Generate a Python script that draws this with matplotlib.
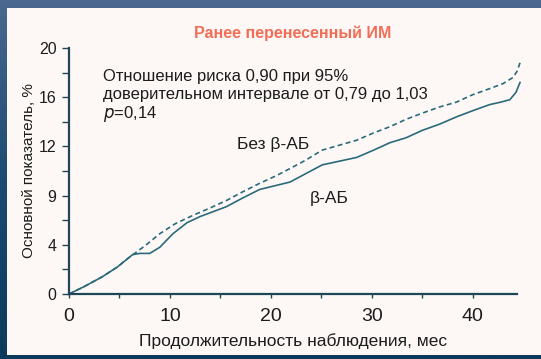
import matplotlib.pyplot as plt
import numpy as np
from matplotlib.patches import Rectangle
from matplotlib.colors import LinearSegmentedColormap

# Kaplan-Meier style curves, months vs event rate, %
months_no_bb = [0, 1.5, 3.3, 4.8, 6.0, 7.5, 9.0, 10.5, 12.3, 14.0, 15.6, 17.2, 18.9,
                20.5, 21.9, 23.5, 25.1, 26.8, 28.5, 30.2, 31.8, 33.4, 35.0, 36.7,
                38.4, 40.0, 41.7, 43.0, 44.0, 44.4, 44.7]
rate_no_bb = [0, 0.6, 1.4, 2.2, 3.0, 3.9, 4.9, 5.7, 6.4, 7.0, 7.6, 8.3, 9.0,
              9.6, 10.2, 10.9, 11.7, 12.1, 12.5, 13.1, 13.6, 14.2, 14.7, 15.2,
              15.6, 16.2, 16.7, 17.1, 17.6, 18.1, 18.8]

months_bb = [0, 1.5, 3.3, 4.8, 6.3, 7.0, 8.0, 9.0, 10.3, 11.7, 13.0, 14.3, 15.6,
             17.2, 18.9, 20.4, 21.9, 23.5, 25.1, 26.8, 28.5, 30.2, 31.8, 33.4,
             35.0, 36.7, 38.4, 40.0, 41.7, 42.8, 43.7, 44.3, 44.7]
rate_bb = [0, 0.6, 1.4, 2.2, 3.2, 3.3, 3.3, 3.8, 4.9, 5.8, 6.3, 6.7, 7.1,
           7.8, 8.5, 8.8, 9.1, 9.8, 10.5, 10.8, 11.1, 11.7, 12.3, 12.7,
           13.3, 13.8, 14.4, 14.9, 15.4, 15.6, 15.8, 16.4, 17.2]

y_ticks = [0, 4, 8, 12, 16, 20]
y_tick_labels = ['0', '4', '9', '12', '16', '20']
x_ticks = [0, 5, 10, 15, 20, 25, 30, 35, 40]
x_tick_labels = ['0', '', '10', '', '20', '', '30', '', '40']

teal = '#2b6a7a'
ink = '#1c1c1c'
axis_col = '#1f4656'

plt.rcParams['font.family'] = ['Liberation Sans', 'DejaVu Sans']
fig = plt.figure(figsize=(5.41, 3.59), dpi=100)

# blue frame with a soft vertical gradient
bg = fig.add_axes([0, 0, 1, 1])
grad = np.linspace(0, 1, 256).reshape(-1, 1)
frame_cmap = LinearSegmentedColormap.from_list('frame', ['#0b3a5c', '#1c4a70', '#4a6890'])
bg.imshow(grad, aspect='auto', extent=[0, 1, 0, 1], cmap=frame_cmap, origin='lower')
bg.add_patch(Rectangle((7 / 541, 4 / 359), 1, (351 - 4) / 359,
                       facecolor='#fdf8f6', edgecolor='none'))
bg.set_xlim(0, 1)
bg.set_ylim(0, 1)
bg.axis('off')

ax = fig.add_axes([69 / 541, 1 - 294 / 359, (517 - 69) / 541, (294 - 48) / 359])
ax.patch.set_alpha(0)

ax.plot(months_no_bb, rate_no_bb, color=teal, lw=1.2, ls=(0, (3, 2)), clip_on=False)
ax.plot(months_bb, rate_bb, color=teal, lw=1.2, clip_on=False)

ax.set_xlim(0, 44.4)
ax.set_ylim(0, 20)
for side in ['top', 'right']:
    ax.spines[side].set_visible(False)
for side in ['left', 'bottom']:
    ax.spines[side].set_color(axis_col)
    ax.spines[side].set_linewidth(1.6)

ax.set_yticks(y_ticks)
ax.set_yticklabels(y_tick_labels)
ax.set_yticks([2, 6, 10, 14, 18], minor=True)
ax.set_xticks(x_ticks)
ax.set_xticklabels(x_tick_labels)
ax.tick_params(axis='y', which='both', length=5, width=1, color=axis_col,
               labelsize=11.5, labelcolor=ink, pad=4)
ax.tick_params(axis='x', which='both', length=3, width=1, color=axis_col,
               labelsize=14, labelcolor=ink, pad=7)

ax.set_ylabel('Основной показатель, %', fontsize=11, color=ink, labelpad=2)
ax.set_xlabel('Продолжительность наблюдения, мес', fontsize=12.5, color=ink, labelpad=6)

fig.text(293 / 541, 1 - 33 / 359, 'Ранее перенесенный ИМ', color='#f0553a',
         fontsize=11.5, fontweight='bold', ha='center', va='center', alpha=0.85)

fig.text(103 / 541, 1 - 76 / 359, 'Отношение риска 0,90 при 95%',
         fontsize=12, color=ink, ha='left', va='center')
fig.text(103 / 541, 1 - 95 / 359, 'доверительном интервале от 0,79 до 1,03',
         fontsize=12, color=ink, ha='left', va='center')
fig.text(103 / 541, 1 - 114 / 359, '$\\it{p}$=0,14', fontsize=12, color=ink,
         ha='left', va='center')

fig.text(237 / 541, 1 - 145 / 359, 'Без β-АБ', fontsize=12.5, color=ink,
         ha='left', va='center')
fig.text(310 / 541, 1 - 198 / 359, 'β-АБ', fontsize=12.5, color=ink,
         ha='left', va='center')

fig.savefig('out.png', dpi=100)
